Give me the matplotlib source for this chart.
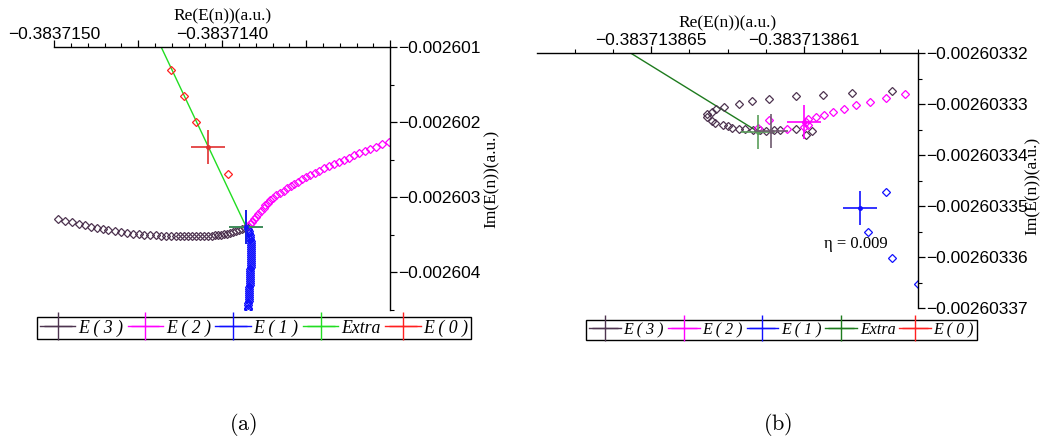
import numpy as np
import matplotlib
matplotlib.use("Agg")
import matplotlib.pyplot as plt
from matplotlib.lines import Line2D
from matplotlib.ticker import FixedLocator, FixedFormatter

plt.rcParams.update({
    "font.family": ["Liberation Sans", "DejaVu Sans"],
    "mathtext.fontset": "cm",
    "axes.linewidth": 1.0,
})

PURPLE = "#4e3450"
MAGENTA = "#ff00ff"
BLUE = "#1010ff"
GREEN_A = "#22dd22"
GREEN_B = "#1e7b1e"
RED = "#ff2020"

# ── panel (a): offsets in units of 1e-9 from Re = -0.3837150, Im = -0.0026010 ──
RE0_A = -0.3837150
IM0_A = -0.0026010
U_A = 1e-9

e3_a_re = [24, 66, 108, 150, 186, 222, 257, 293, 323, 359, 395, 431, 467, 503,
           533, 569, 605, 635, 665, 695, 725, 749, 772, 796, 820, 844, 868, 892,
           916, 940, 958, 976, 994, 1012, 1030, 1048, 1066, 1084, 1102, 1120,
           1138, 1150]
e3_a_im = [-2293, -2320, -2333, -2360, -2373, -2400, -2413, -2427, -2440, -2453,
           -2467, -2480, -2493, -2493, -2507, -2507, -2507, -2520, -2520, -2520,
           -2520, -2520, -2520, -2520, -2520, -2520, -2520, -2520, -2520, -2520,
           -2507, -2507, -2507, -2493, -2493, -2480, -2467, -2453, -2440, -2427,
           -2413, -2400]

e2_a_re = [1156, 1168, 1180, 1192, 1204, 1216, 1228, 1246, 1257, 1275, 1287,
           1305, 1323, 1341, 1365, 1383, 1407, 1425, 1449, 1473, 1497, 1521,
           1551, 1575, 1605, 1635, 1665, 1695, 1725, 1754, 1784, 1814, 1850,
           1880, 1916, 1952, 1994]
e2_a_im = [-2386, -2360, -2333, -2293, -2266, -2226, -2186, -2146, -2106, -2080,
           -2040, -2013, -1973, -1946, -1920, -1880, -1853, -1826, -1800, -1760,
           -1733, -1706, -1680, -1653, -1613, -1586, -1560, -1533, -1506, -1480,
           -1440, -1413, -1386, -1360, -1333, -1293, -1266]

e1_a_re = [1156, 1162, 1162, 1168, 1168, 1168, 1174, 1174, 1174, 1174, 1174,
           1174, 1174, 1174, 1174, 1174, 1174, 1174, 1174, 1174, 1168, 1168,
           1168, 1168, 1168, 1168, 1168, 1168, 1168, 1162, 1162, 1162, 1162,
           1162, 1162, 1162, 1162, 1156, 1156, 1156, 1156, 1156]
e1_a_im = [-2427, -2453, -2480, -2507, -2533, -2560, -2587, -2613, -2640, -2667,
           -2693, -2720, -2747, -2773, -2800, -2827, -2853, -2880, -2907, -2933,
           -2960, -2987, -3013, -3040, -3067, -3093, -3120, -3147, -3173, -3200,
           -3227, -3253, -3280, -3307, -3333, -3360, -3387, -3413, -3440, -3467,
           -3493, -3520]

e0_a_re = [695, 772, 844, 1036]
e0_a_im = [-307, -653, -1000, -1693]
e0_a_cross = (916, -1333)

extra_a_re = [617, 1144]
extra_a_im = [93, -2400]
limit_a = (1144, -2400)

# ── panel (b): Re offsets in 1e-10 from -0.383713868, Im offsets in 1e-10 from -0.00260332 ──
RE0_B = -0.383713868
IM0_B = -0.00260332
URE_B = 1e-10
UIM_B = 1e-10

e3_b_re = [93.1, 82.6, 75.0, 68.1, 61.0, 56.5, 52.9, 49.2, 47.1, 46.0, 44.7, 44.7,
           45.8, 46.8, 48.7, 50.0, 51.3, 52.9, 54.7, 56.8, 58.4, 60.2, 62.1, 63.9,
           68.1, 72.1, 70.5]
e3_b_im = [-74.5, -78.4, -82.3, -84.3, -90.2, -94.1, -100.0, -105.8, -109.8, -115.6,
           -119.6, -125.4, -133.3, -137.2, -141.1, -143.1, -147.0, -149.0, -149.0,
           -150.9, -150.9, -152.9, -150.9, -150.9, -149.0, -152.9, -160.7]

e2_b_re = [96.5, 91.5, 87.3, 83.6, 80.5, 77.8, 75.2, 73.1, 71.0, 70.5, 71.0, 70.2,
           65.5, 60.8, 57.9]
e2_b_im = [-80.4, -88.2, -96.0, -101.9, -109.8, -115.6, -121.5, -125.4, -129.4,
           -135.2, -141.1, -145.0, -149.0, -131.3, -147.0]

e1_b_re = [91.5, 86.8, 93.1, 99.9]
e1_b_im = [-272.4, -350.8, -401.8, -452.8]

extra_b_re = [20.3, 58.1]
extra_b_im = [19.6, -154.8]

cross_e3_b = (61.5, -152.9)
cross_extra_b = (58.1, -154.8)
cross_e2_b = (70.2, -135.2)
cross_e1_b = (84.9, -303.8)
eta_b = (83.6, -374.4)

legend_labels = ["E ( 3 )", "E ( 2 )", "E ( 1 )", "Extra", "E ( 0 )"]


def ra(v):
    return RE0_A + np.asarray(v, dtype=float) * U_A


def ia(v):
    return IM0_A + np.asarray(v, dtype=float) * U_A


def rb(v):
    return RE0_B + np.asarray(v, dtype=float) * URE_B


def ib(v):
    return IM0_B + np.asarray(v, dtype=float) * UIM_B


def diamonds(ax, x, y, color):
    ax.plot(x, y, ls="none", marker="D", ms=4, mfc="none", mec=color, mew=0.9)


def cross(ax, x, y, color, marker="+"):
    ax.plot([x], [y], ls="none", marker=marker, ms=24, mew=1.2, color=color)
    ax.plot([x], [y], ls="none", marker="o", ms=2.5, color=color)


def style(ax):
    for s in ("left", "bottom"):
        ax.spines[s].set_visible(False)
    ax.xaxis.tick_top()
    ax.yaxis.tick_right()
    ax.xaxis.set_label_position("top")
    ax.yaxis.set_label_position("right")
    ax.tick_params(which="major", length=5, width=0.9, labelsize=12.5, pad=1)
    ax.tick_params(axis="x", which="major", pad=-1.5)
    ax.tick_params(which="minor", length=3, width=0.8)
    ax.xaxis.label.set_fontfamily("Liberation Serif")
    ax.yaxis.label.set_fontfamily("Liberation Serif")


def legend(fig, green, center, size):
    colors = [PURPLE, MAGENTA, BLUE, green, RED]
    handles = [Line2D([], [], color=c, lw=1.0, marker="+", ms=size * 1.6, mew=1.0)
               for c in colors]
    leg = fig.legend(handles, legend_labels, loc="center", bbox_to_anchor=center,
                     ncol=5, frameon=True, fancybox=False, edgecolor="black",
                     framealpha=1, handlelength=2.0, handletextpad=0.15,
                     columnspacing=0.25, borderpad=0.15, borderaxespad=0,
                     prop={"family": "Liberation Serif", "style": "italic",
                           "size": size})
    leg.get_frame().set_linewidth(1.0)


fig = plt.figure(figsize=(10.42, 4.4), dpi=100)

# ── (a) ──
ax = fig.add_axes([0.052, 0.2955, 0.3225, 0.5977])
ax.plot(ra(extra_a_re), ia(extra_a_im), color=GREEN_A, lw=1.0)
diamonds(ax, ra(e3_a_re), ia(e3_a_im), PURPLE)
diamonds(ax, ra(e2_a_re), ia(e2_a_im), MAGENTA)
diamonds(ax, ra(e1_a_re), ia(e1_a_im), BLUE)
diamonds(ax, ra(e0_a_re), ia(e0_a_im), RED)
cross(ax, ra(e0_a_cross[0]), ia(e0_a_cross[1]), "#e03030")
cross(ax, ra(limit_a[0]), ia(limit_a[1]), PURPLE)
cross(ax, ra(limit_a[0]), ia(limit_a[1]), "#3c9a5a")
cross(ax, ra(limit_a[0]), ia(limit_a[1]), BLUE, marker="|")
ax.set_xlim(-0.3837150, -0.3837130)
ax.set_ylim(-0.0026045, -0.0026010)
ax.xaxis.set_major_locator(FixedLocator([-0.3837150, -0.3837145, -0.3837140,
                                         -0.3837135, -0.3837130]))
ax.xaxis.set_major_formatter(FixedFormatter(["−0.3837150", "", "−0.3837140", "", ""]))
ax.xaxis.set_minor_locator(FixedLocator(np.linspace(-0.3837150, -0.3837130, 21)))
ax.yaxis.set_major_locator(FixedLocator([-0.002601, -0.002602, -0.002603, -0.002604]))
ax.yaxis.set_major_formatter(FixedFormatter(["−0.002601", "−0.002602",
                                             "−0.002603", "−0.002604"]))
ax.yaxis.set_minor_locator(FixedLocator([-0.0026015, -0.0026025, -0.0026035,
                                         -0.0026045]))
ax.set_xlabel("Re(E(n))(a.u.)", fontsize=12.5, labelpad=4.5)
ax.set_ylabel("Im(E(n))(a.u.)", fontsize=12.5)
style(ax)
ax.yaxis.set_label_coords(1.277, 0.5)

# ── (b) ──
bx = fig.add_axes([0.5154, 0.300, 0.3656, 0.5795])
bx.plot(rb(extra_b_re), ib(extra_b_im), color=GREEN_B, lw=1.0)
diamonds(bx, rb(e3_b_re), ib(e3_b_im), PURPLE)
diamonds(bx, rb(e2_b_re), ib(e2_b_im), MAGENTA)
diamonds(bx, rb(e1_b_re), ib(e1_b_im), BLUE)
cross(bx, rb(cross_extra_b[0]), ib(cross_extra_b[1]), "#5a9e5a")
cross(bx, rb(cross_e3_b[0]), ib(cross_e3_b[1]), "#6e5a6e")
cross(bx, rb(cross_e2_b[0]), ib(cross_e2_b[1]), MAGENTA)
cross(bx, rb(cross_e1_b[0]), ib(cross_e1_b[1]), BLUE)
bx.text(rb(eta_b[0]), ib(eta_b[1]), "η = 0.009", ha="center", va="center",
        fontsize=12, family=["Liberation Serif", "DejaVu Serif"])
bx.set_xlim(-0.383713868, -0.383713858)
bx.set_ylim(-0.00260337, -0.00260332)
bx.xaxis.set_major_locator(FixedLocator([-0.383713865, -0.383713861]))
bx.xaxis.set_major_formatter(FixedFormatter(["−0.383713865", "−0.383713861"]))
bx.xaxis.set_minor_locator(FixedLocator(np.linspace(-0.383713867, -0.383713858, 10)))
yb = [-0.00260332, -0.00260333, -0.00260334, -0.00260335, -0.00260336, -0.00260337]
bx.yaxis.set_major_locator(FixedLocator(yb))
bx.yaxis.set_major_formatter(FixedFormatter(["−0.00260332", "−0.00260333",
                                             "−0.00260334", "−0.00260335",
                                             "−0.00260336", "−0.00260337"]))
bx.yaxis.set_minor_locator(FixedLocator(np.linspace(-0.002603325, -0.002603365, 5)))
bx.set_xlabel("Re(E(n))(a.u.)", fontsize=12.5, labelpad=4.5)
bx.set_ylabel("Im(E(n))(a.u.)", fontsize=12.5)
style(bx)
bx.yaxis.set_label_coords(1.281, 0.48)

legend(fig, GREEN_A, (0.2438, 0.2545), 12.8)
legend(fig, GREEN_B, (0.750, 0.2500), 11.5)

fig.text(0.233, 0.036, r"$\mathrm{(a)}$", ha="center", va="center", fontsize=16)
fig.text(0.746, 0.036, r"$\mathrm{(b)}$", ha="center", va="center", fontsize=16)

fig.savefig("out.png", dpi=100)
